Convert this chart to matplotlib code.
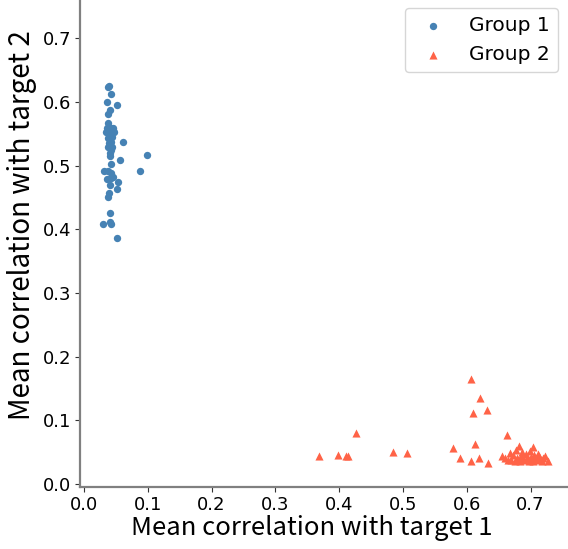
import matplotlib
matplotlib.use("Agg")
import matplotlib.pyplot as plt

# Group 1: mean correlations (target 1, target 2)
g1_x = [0.037, 0.039, 0.042, 0.036, 0.052, 0.041, 0.038, 0.037, 0.043, 0.035,
        0.045, 0.037, 0.042, 0.061, 0.038, 0.042, 0.041, 0.099, 0.057, 0.042,
        0.032, 0.038, 0.088, 0.036, 0.043, 0.054, 0.041, 0.052, 0.039, 0.037,
        0.041, 0.030, 0.043, 0.041, 0.051, 0.040, 0.044, 0.046, 0.039, 0.044,
        0.036, 0.047, 0.040, 0.043, 0.046]
g1_y = [0.624, 0.625, 0.612, 0.600, 0.595, 0.587, 0.582, 0.567, 0.559, 0.553,
        0.556, 0.543, 0.538, 0.537, 0.530, 0.525, 0.515, 0.517, 0.509, 0.502,
        0.492, 0.492, 0.492, 0.479, 0.480, 0.475, 0.470, 0.463, 0.457, 0.450,
        0.425, 0.408, 0.409, 0.412, 0.386, 0.548, 0.545, 0.560, 0.535, 0.530,
        0.560, 0.553, 0.520, 0.488, 0.483]

# Group 2: mean correlations (target 1, target 2)
g2_x = [0.369, 0.398, 0.411, 0.414, 0.426, 0.484, 0.506, 0.579, 0.590, 0.606,
        0.620, 0.610, 0.631, 0.607, 0.613, 0.619, 0.633, 0.663, 0.655, 0.682,
        0.677, 0.703, 0.723, 0.727, 0.660, 0.665, 0.670, 0.672, 0.675, 0.678,
        0.680, 0.683, 0.685, 0.688, 0.690, 0.692, 0.695, 0.697, 0.700, 0.702,
        0.704, 0.706, 0.708, 0.710, 0.713, 0.715, 0.718, 0.720, 0.668, 0.687,
        0.699, 0.712]
g2_y = [0.044, 0.045, 0.044, 0.043, 0.080, 0.050, 0.048, 0.056, 0.040, 0.165,
        0.134, 0.111, 0.116, 0.036, 0.062, 0.040, 0.033, 0.077, 0.044, 0.059,
        0.053, 0.057, 0.043, 0.036, 0.040, 0.037, 0.038, 0.045, 0.036, 0.041,
        0.038, 0.035, 0.043, 0.039, 0.037, 0.046, 0.040, 0.036, 0.042, 0.038,
        0.035, 0.045, 0.040, 0.037, 0.043, 0.039, 0.036, 0.041, 0.048, 0.050,
        0.052, 0.047]

tick_vals = [0.0, 0.1, 0.2, 0.3, 0.4, 0.5, 0.6, 0.7]

fig = plt.figure(figsize=(5.68, 5.49), dpi=100)
ax = fig.add_axes([80 / 568, (549 - 486.7) / 549, 1 - 80 / 568, 486.7 / 549])

ax.scatter(g1_x, g1_y, s=28, marker="o", color="#4682B4", label="Group 1",
           linewidths=0)
ax.scatter(g2_x, g2_y, s=34, marker="^", color="#FF6347", label="Group 2",
           linewidths=0)

ax.set_xlim(-0.0063, 0.7586)
ax.set_ylim(-0.0047, 0.7605)
ax.set_xticks(tick_vals)
ax.set_yticks(tick_vals)
ax.tick_params(labelsize=13, color="#333333", pad=3)

for side in ("top", "right"):
    ax.spines[side].set_visible(False)
for side in ("left", "bottom"):
    ax.spines[side].set_color("#808080")
    ax.spines[side].set_linewidth(1.6)

label_font = ["Noto Sans CJK JP", "DejaVu Sans"]
ax.set_xlabel("Mean correlation with target 1", fontsize=18.5, family=label_font)
ax.set_ylabel("Mean correlation with target 2", fontsize=20, family=label_font)
ax.xaxis.set_label_coords(0.475, -0.058)
ax.yaxis.set_label_coords(-0.088, 0.538)

ax.legend(loc="upper right", fontsize=14.5, frameon=True, borderaxespad=0,
          bbox_to_anchor=(0.9795, 0.9836))

fig.savefig("out.png", dpi=100)
